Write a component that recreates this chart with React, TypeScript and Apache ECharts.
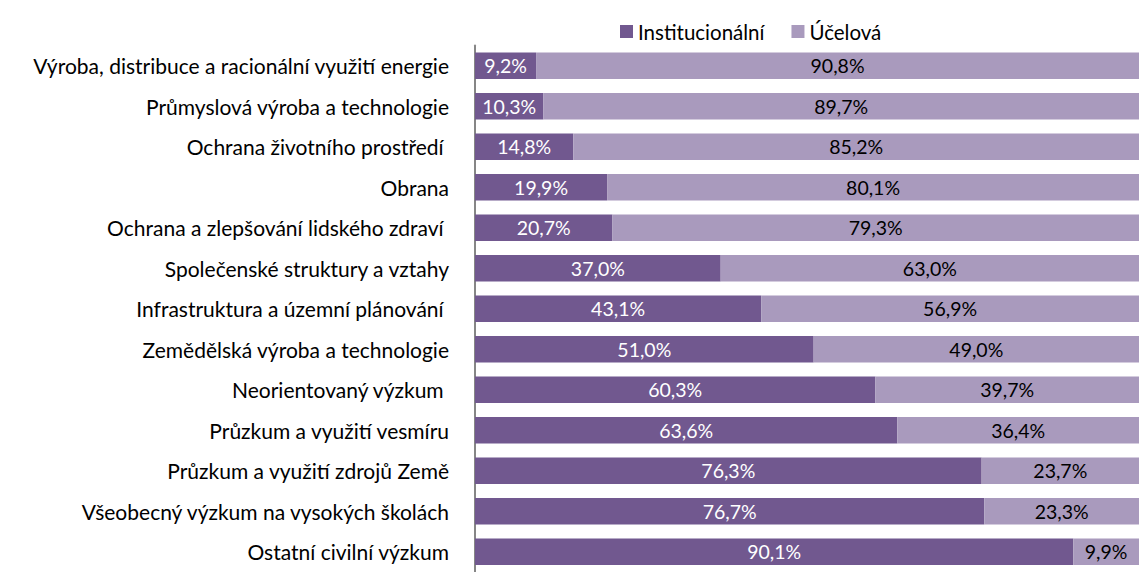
import React, { useEffect, useRef } from "react";
import * as echarts from "echarts";

const categories = [
  "Výroba, distribuce a racionální využití energie",
  "Průmyslová výroba a technologie",
  "Ochrana životního prostředí ",
  "Obrana",
  "Ochrana a zlepšování lidského zdraví ",
  "Společenské struktury a vztahy",
  "Infrastruktura a územní plánování ",
  "Zemědělská výroba a technologie",
  "Neorientovaný výzkum ",
  "Průzkum a využití vesmíru",
  "Průzkum a využití zdrojů Země",
  "Všeobecný výzkum na vysokých školách",
  "Ostatní civilní výzkum",
];
const institucionalni = [9.2, 10.3, 14.8, 19.9, 20.7, 37.0, 43.1, 51.0, 60.3, 63.6, 76.3, 76.7, 90.1];
const ucelova = [90.8, 89.7, 85.2, 80.1, 79.3, 63.0, 56.9, 49.0, 39.7, 36.4, 23.7, 23.3, 9.9];
const seriesNames = ["Institucionální", "Účelová"];

const FONT = "Lato";
const fmt = (v: number) => v.toFixed(1).replace(".", ",") + "%";

export default function App() {
  const ref = useRef<HTMLDivElement>(null);
  useEffect(() => {
    if (!ref.current) return;
    const chart = echarts.init(ref.current, undefined, { renderer: "svg" });
    chart.setOption({
      animation: false,
      textStyle: { fontFamily: FONT },
      legend: {
        top: 16,
        left: 615,
        itemWidth: 13,
        itemHeight: 13,
        itemGap: 27,
        icon: "rect",
        textStyle: { fontFamily: FONT, fontSize: 20.5, color: "#000" },
        data: seriesNames,
      },
      grid: { left: 475, width: 667, top: 45.5, height: 532.5, containLabel: false },
      xAxis: {
        type: "value",
        min: 0,
        max: 100,
        show: false,
      },
      yAxis: {
        type: "category",
        inverse: true,
        data: categories,
        axisLine: { show: true, lineStyle: { color: "#868686", width: 2 } },
        axisTick: { show: false },
        axisLabel: { fontFamily: FONT, fontSize: 21, color: "#000", margin: 26 },
      },
      series: [
        {
          name: seriesNames[0],
          type: "bar",
          stack: "total",
          barWidth: "66%",
          itemStyle: { color: "#71588f" },
          label: {
            show: true,
            position: "inside",
            color: "#fff",
            fontFamily: FONT,
            fontSize: 19.5,
            formatter: (p: any) => fmt(p.value),
          },
          data: institucionalni,
        },
        {
          name: seriesNames[1],
          type: "bar",
          stack: "total",
          barWidth: "66%",
          itemStyle: { color: "#a99abd" },
          label: {
            show: true,
            position: "inside",
            color: "#000",
            fontFamily: FONT,
            fontSize: 19.5,
            formatter: (p: any) => fmt(p.value),
          },
          data: ucelova,
        },
      ],
    });
    return () => chart.dispose();
  }, []);
  return <div ref={ref} style={{ width: 1139, height: 572, position: "absolute", left: 0, top: 0 }} />;
}
